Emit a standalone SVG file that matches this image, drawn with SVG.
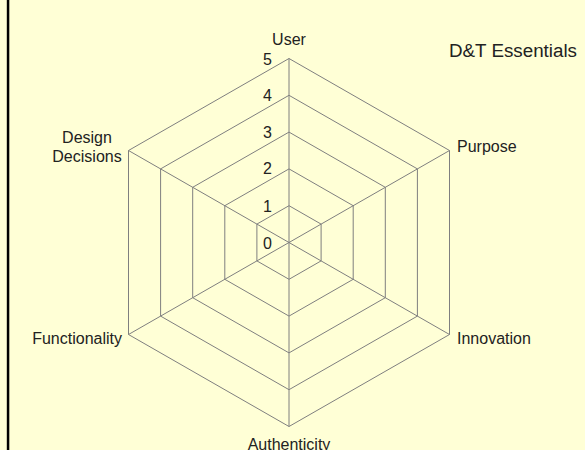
<svg xmlns="http://www.w3.org/2000/svg" width="585" height="450" viewBox="0 0 585 450">
  <style>
    .grid { fill: none; stroke: #7f7f7f; stroke-width: 1; }
    .lbl { font-family: "Liberation Sans", Arial, sans-serif; font-size: 16px; fill: #222; }
    .mid { text-anchor: middle; }
    .end { text-anchor: end; }
  </style>
  <rect x="0" y="0" width="585" height="450" fill="#FFFFD6"/>
  <rect x="6.8" y="0" width="2.5" height="450" fill="#000"/>

  <g id="grid">
    <polygon class="grid" points="289,205.7 321.1,224.1 321.1,260.9 289,279.3 256.9,260.9 256.9,224.1"/>
    <polygon class="grid" points="289,168.9 353.2,205.7 353.2,279.3 289,316.1 224.8,279.3 224.8,205.7"/>
    <polygon class="grid" points="289,132.1 385.3,187.3 385.3,297.7 289,352.9 192.7,297.7 192.7,187.3"/>
    <polygon class="grid" points="289,95.3 417.4,168.9 417.4,316.1 289,389.7 160.6,316.1 160.6,168.9"/>
    <polygon class="grid" points="289,58.5 449.5,150.5 449.5,334.5 289,426.5 128.5,334.5 128.5,150.5"/>
  </g>
  <g id="spokes">
    <line class="grid" x1="289" y1="242.5" x2="289" y2="58.5"/>
    <line class="grid" x1="289" y1="242.5" x2="449.5" y2="150.5"/>
    <line class="grid" x1="289" y1="242.5" x2="449.5" y2="334.5"/>
    <line class="grid" x1="289" y1="242.5" x2="289" y2="426.5"/>
    <line class="grid" x1="289" y1="242.5" x2="128.5" y2="334.5"/>
    <line class="grid" x1="289" y1="242.5" x2="128.5" y2="150.5"/>
  </g>

  <g id="scale">
    <text class="lbl end" x="272" y="64.5">5</text>
    <text class="lbl end" x="272" y="101">4</text>
    <text class="lbl end" x="272" y="137.5">3</text>
    <text class="lbl end" x="272" y="174">2</text>
    <text class="lbl end" x="272" y="211.5">1</text>
    <text class="lbl end" x="272" y="248.5">0</text>
  </g>

  <g id="axis-user"><text class="lbl mid" x="289" y="45">User</text></g>
  <g id="axis-purpose"><text class="lbl" x="457" y="152">Purpose</text></g>
  <g id="axis-innovation"><text class="lbl" x="457" y="344">Innovation</text></g>
  <g id="axis-authenticity"><text class="lbl mid" x="289" y="449.5">Authenticity</text></g>
  <g id="axis-functionality"><text class="lbl end" x="122" y="344">Functionality</text></g>
  <g id="axis-design-decisions">
    <text class="lbl mid" x="87" y="143.3">Design</text>
    <text class="lbl mid" x="87" y="161.7">Decisions</text>
  </g>

  <g id="title">
    <text class="lbl" x="449" y="56.7" style="font-size:18px" textLength="128" lengthAdjust="spacingAndGlyphs">D&amp;T Essentials</text>
  </g>
</svg>
